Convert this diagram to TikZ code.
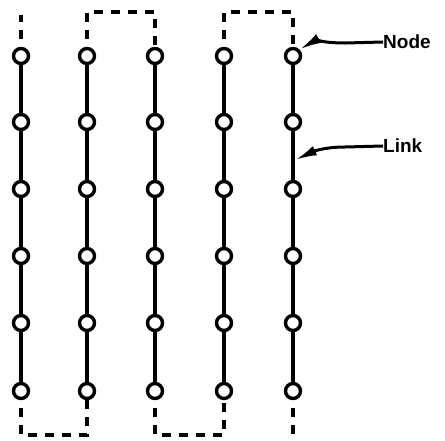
\documentclass[tikz,border=0pt]{standalone}
\usepackage{fontspec}
\setmainfont{Liberation Sans}
\usetikzlibrary{arrows.meta}
\begin{document}
\begin{tikzpicture}[x=1pt,y=-1pt,
  nd/.style={circle,draw=black,fill=white,line width=3.4pt,minimum size=15pt,inner sep=0pt},
  lnk/.style={line width=3.4pt},
  dsh/.style={line width=3.4pt,dash pattern=on 9pt off 8pt},
  lead/.style={line width=3pt,-{Latex[length=22pt,width=10pt]}},
  lbl/.style={font=\bfseries\fontsize{19}{19}\selectfont,anchor=west,inner sep=0pt}]
\useasboundingbox (0,0) rectangle (445,440);
% columns and rows
\foreach \c/\x in {1/21,2/87,3/155,4/224,5/293}{
  \foreach \r/\y in {1/56,2/122,3/189,4/256,5/323,6/391}{
    \coordinate (p\c\r) at (\x,\y);
  }
}
% links
\foreach \c in {1,...,5}{
  \foreach \r/\s in {1/2,2/3,3/4,4/5,5/6}{
    \draw[lnk] (p\c\r) -- (p\c\s);
  }
}
% dashed connections
\coordinate (t1) at (21,15);
\coordinate (b5) at (293,434);
\draw[dsh] (p11) -- (t1);
\draw[dsh] (p21) -- (87,12) -- (155,12) -- (p31);
\draw[dsh] (p41) -- (224,12) -- (293,12) -- (p51);
\draw[dsh] (p16) -- (21,435) -- (87,435) -- (p26);
\draw[dsh] (p36) -- (155,435) -- (224,435) -- (p46);
\draw[dsh] (p56) -- (b5);
% nodes
\foreach \c in {1,...,5}{
  \foreach \r in {1,...,6}{
    \node[nd] (n\c\r) at (p\c\r) {};
  }
}
% labels
\node[lbl] (lnode) at (383,42) {Node};
\node[lbl] (llink) at (383,146) {Link};
\coordinate (linkpt) at (295,160);
\draw[lead] (lnode.west) -- ++(-38,1) to[out=180,in=30] (n51.north east);
\draw[lead] (llink.west) -- ++(-38,1) to[out=180,in=25] (linkpt);
\end{tikzpicture}
\end{document}
